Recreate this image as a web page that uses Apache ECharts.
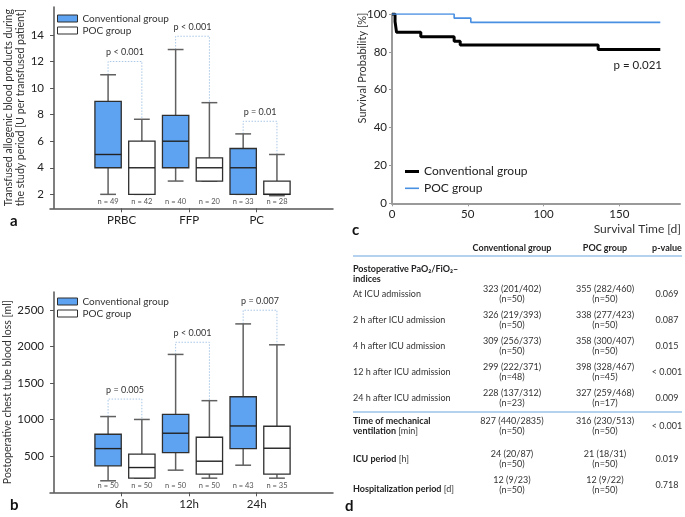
<!DOCTYPE html>
<html>
<head>
<meta charset="utf-8">
<script src="https://cdn.jsdelivr.net/npm/echarts@6/dist/echarts.min.js"></script>
<style>
  html, body { margin: 0; padding: 0; background: #ffffff; }
  #chart { width: 685px; height: 517px; }
</style>
</head>
<body>
<div id="chart"></div>
<script>
// ---- panel a: transfused blood products, [min, Q1, median, Q3, max]
const bloodCategories = ['PRBC', 'FFP', 'PC'];
const bloodConventional = [[2, 4, 5, 9, 11], [3, 4, 6, 7.95, 12.9], [2, 2, 4, 5.45, 6.55]];
const bloodPoc = [[2, 2, 4, 6, 7.65], [3, 3, 4, 4.75, 8.9], [1.9, 2, 2, 3, 5]];
const bloodNConventional = [49, 40, 33];
const bloodNPoc = [42, 20, 28];
const bloodPLabels = ['p < 0.001', 'p < 0.001', 'p = 0.01'];
const bloodBracketLevels = [12, 13.9, 7.5];
const bloodYTicks = [2, 4, 6, 8, 10, 12, 14];

// ---- panel b: chest tube blood loss [ml]
const lossCategories = ['6h', '12h', '24h'];
const lossConventional = [[158, 363, 600, 797, 1040], [304, 545, 811, 1071, 1893], [372, 600, 911, 1312, 2312]];
const lossPoc = [[194, 194, 340, 523, 1000], [194, 249, 427, 756, 1258], [194, 249, 605, 907, 2025]];
const lossNConventional = [50, 50, 43];
const lossNPoc = [50, 50, 35];
const lossPLabels = ['p = 0.005', 'p < 0.001', 'p = 0.007'];
const lossBracketLevels = [1280, 2060, 2500];
const lossYTicks = [500, 1000, 1500, 2000, 2500];

// ---- panel c: Kaplan-Meier, [day, survival %]
const survivalConventional = [[0, 100], [2, 96], [3, 90.3], [19, 88], [41, 85.6], [45, 83.6], [136, 81.2], [177, 81.2]];
const survivalPoc = [[0, 100], [41, 97.8], [52, 95.6], [177, 95.6]];
const survivalXTicks = [0, 50, 100, 150];
const survivalP = 'p = 0.021';

// ---- panel d: table
const tableHeader = ['Conventional group', 'POC group', 'p-value'];
const pfTitle = 'Postoperative PaO₂/FiO₂–\nindices';
const pfRows = ['At ICU admission', '2 h after ICU admission', '4 h after ICU admission', '12 h after ICU admission', '24 h after ICU admission'];
const pfConventional = ['323 (201/402)', '326 (219/393)', '309 (256/373)', '299 (222/371)', '228 (137/312)'];
const pfConventionalN = ['(n=50)', '(n=50)', '(n=50)', '(n=48)', '(n=23)'];
const pfPoc = ['355 (282/460)', '338 (277/423)', '358 (300/407)', '398 (328/467)', '327 (259/468)'];
const pfPocN = ['(n=50)', '(n=50)', '(n=50)', '(n=45)', '(n=17)'];
const pfP = ['0.069', '0.087', '0.015', '< 0.001', '0.009'];
const outcomeRows = ['{b|Time of mechanical}\n{b|ventilation} [min]', '{b|ICU period} [h]', '{b|Hospitalization period} [d]'];
const outcomeConventional = ['827 (440/2835)', '24 (20/87)', '12 (9/23)'];
const outcomeConventionalN = ['(n=50)', '(n=50)', '(n=50)'];
const outcomePoc = ['316 (230/513)', '21 (18/31)', '12 (9/22)'];
const outcomePocN = ['(n=50)', '(n=50)', '(n=50)'];
const outcomeP = ['< 0.001', '0.019', '0.718'];

const FONT = 'Lato';
const CONV_FILL = '#5ea3f2';
const BRACKET = '#a9c7e6';
const CONV_OFFSET = -0.2;
const POC_OFFSET = 0.3;
const BOX_WIDTH = 0.39;

function boxSeries(name, axis, stats, nList, offset, fill, yMin) {
  return {
    type: 'custom',
    name: name,
    xAxisIndex: axis,
    yAxisIndex: axis,
    silent: true,
    data: stats.map((s, i) => [i + 1, s[0], s[1], s[2], s[3], s[4], nList[i]]),
    encode: { x: 0, y: [1, 2, 3, 4, 5] },
    renderItem: function (params, api) {
      const x = api.value(0) + offset;
      const cx = api.coord([x, 0])[0];
      const yLow = api.coord([x, api.value(1)])[1];
      const yQ1 = api.coord([x, api.value(2)])[1];
      const yMed = api.coord([x, api.value(3)])[1];
      const yQ3 = api.coord([x, api.value(4)])[1];
      const yHigh = api.coord([x, api.value(5)])[1];
      const yBase = api.coord([x, yMin])[1];
      const half = api.size([BOX_WIDTH, 0])[0] / 2;
      const cap = half * 0.6;
      const whisker = { stroke: '#606060', lineWidth: 1.5 };
      return {
        type: 'group',
        children: [
          { type: 'line', shape: { x1: cx, y1: yHigh, x2: cx, y2: yQ3 }, style: whisker },
          { type: 'line', shape: { x1: cx, y1: yQ1, x2: cx, y2: yLow }, style: whisker },
          { type: 'line', shape: { x1: cx - cap, y1: yHigh, x2: cx + cap, y2: yHigh }, style: whisker },
          { type: 'line', shape: { x1: cx - cap, y1: yLow, x2: cx + cap, y2: yLow }, style: whisker },
          { type: 'rect', shape: { x: cx - half, y: yQ3, width: half * 2, height: yQ1 - yQ3 },
            style: { fill: fill, stroke: '#2f2f2f', lineWidth: 1.3 } },
          { type: 'line', shape: { x1: cx - half, y1: yMed, x2: cx + half, y2: yMed },
            style: { stroke: '#222', lineWidth: 1.4 } },
          { type: 'text', x: cx, y: yBase - 7,
            style: { text: 'n = ' + api.value(6), fontFamily: FONT, fontSize: 7.5, fill: '#555',
                     textAlign: 'center', textVerticalAlign: 'middle' } }
        ]
      };
    }
  };
}

function bracketSeries(axis, conv, poc, levels, labels) {
  return {
    type: 'custom',
    xAxisIndex: axis,
    yAxisIndex: axis,
    silent: true,
    data: levels.map((lv, i) => [i + 1, lv, conv[i][4], poc[i][4]]),
    encode: { x: 0, y: 1 },
    renderItem: function (params, api) {
      const pos = api.value(0);
      const top = api.coord([pos + CONV_OFFSET, api.value(1)]);
      const xl = top[0];
      const yTop = top[1];
      const yl = api.coord([pos + CONV_OFFSET, api.value(2)])[1];
      const right = api.coord([pos + POC_OFFSET, api.value(3)]);
      const xr = right[0];
      return {
        type: 'group',
        children: [
          { type: 'polyline', shape: { points: [[xl, yl], [xl, yTop], [xr, yTop], [xr, right[1]]] },
            style: { stroke: BRACKET, lineWidth: 1, lineDash: [1.5, 1.5], fill: null } },
          { type: 'text', x: (xl + xr) / 2, y: yTop - 9,
            style: { text: labels[params.dataIndex], fontFamily: FONT, fontSize: 9, fill: '#333',
                     textAlign: 'center', textVerticalAlign: 'middle' } }
        ]
      };
    }
  };
}

function boxXAxis(grid, names) {
  return {
    type: 'value', gridIndex: grid, min: -0.06, max: 4.13,
    axisLine: { show: true, lineStyle: { color: '#555', width: 1.5 } },
    axisTick: { show: true, customValues: [1, 2, 3], length: 4, lineStyle: { color: '#555' } },
    axisLabel: { customValues: [1, 2, 3], formatter: v => names[v - 1] || '',
                 fontFamily: FONT, fontSize: 11.5, color: '#222', margin: 6 },
    splitLine: { show: false }
  };
}

function boxYAxis(grid, min, max, ticks, name, gap) {
  return {
    type: 'value', gridIndex: grid, min: min, max: max,
    axisLine: { show: true, lineStyle: { color: '#555', width: 1.5 } },
    axisTick: { show: true, customValues: ticks, length: 4, lineStyle: { color: '#555' } },
    axisLabel: { customValues: ticks, formatter: v => String(v),
                 fontFamily: FONT, fontSize: 11.5, color: '#222', margin: 6 },
    splitLine: { show: false },
    name: name, nameLocation: 'middle', nameRotate: 90, nameGap: gap,
    nameTextStyle: { fontFamily: FONT, fontSize: 10.5, color: '#333', lineHeight: 12 }
  };
}

const boxLegendData = [
  { name: 'Conventional group', icon: 'rect', itemStyle: { color: CONV_FILL, borderColor: '#2f2f2f', borderWidth: 1 } },
  { name: 'POC group', icon: 'rect', itemStyle: { color: '#ffffff', borderColor: '#2f2f2f', borderWidth: 1 } }
];
const legendText = { fontFamily: FONT, fontSize: 10, color: '#333', lineHeight: 12 };

// ---- graphic texts: letters, axis titles, table
const graphics = [];
function txt(x, y, text, extra) {
  graphics.push({
    type: 'text', x: x, y: y, silent: true,
    style: Object.assign({ text: text, fontFamily: FONT, fontSize: 9, fill: '#333',
                           textAlign: 'left', textVerticalAlign: 'middle' }, extra || {})
  });
}
function hline(x1, x2, y) {
  graphics.push({ type: 'line', silent: true, shape: { x1: x1, y1: y, x2: x2, y2: y },
                  style: { stroke: '#6aa6de', lineWidth: 1.2 } });
}

const letterStyle = { fontSize: 15, fontWeight: 'bold', fill: '#111' };
txt(10, 221, 'a', letterStyle);
txt(10, 505, 'b', letterStyle);
txt(352, 230, 'c', letterStyle);
txt(345, 506, 'd', letterStyle);

graphics.push({
  type: 'text', x: 362, y: 68, rotation: Math.PI / 2, silent: true,
  style: { text: 'Survival Probability [%]', fontFamily: FONT, fontSize: 11, fill: '#333',
           textAlign: 'center', textVerticalAlign: 'middle' }
});
txt(681, 229, 'Survival Time [d]', { fontSize: 12, textAlign: 'right' });
txt(662, 65, survivalP, { fontSize: 11.5, textAlign: 'right', fill: '#222' });

const colX = [512, 605, 667];
const labelX = 353;
const bold = { fontWeight: 'bold', fill: '#222' };
tableHeader.forEach((h, i) => txt(colX[i], 248, h, Object.assign({ textAlign: 'center' }, bold)));
hline(353, 682, 256);
txt(labelX, 274, pfTitle, Object.assign({ lineHeight: 9.5 }, bold));
pfRows.forEach((r, i) => {
  const y = 294 + 26 * i;
  txt(labelX, y, r);
  txt(colX[0], y, pfConventional[i] + '\n' + pfConventionalN[i], { textAlign: 'center', lineHeight: 10 });
  txt(colX[1], y, pfPoc[i] + '\n' + pfPocN[i], { textAlign: 'center', lineHeight: 10 });
  txt(colX[2], y, pfP[i], { textAlign: 'center' });
});
hline(353, 682, 412);
const outcomeY = [426, 459, 485];
const outcomeLabelShift = [0, 0, 4];
const rich = { b: { fontFamily: FONT, fontSize: 9, fontWeight: 'bold', fill: '#222', lineHeight: 9.5 } };
outcomeRows.forEach((r, i) => {
  const y = outcomeY[i];
  txt(labelX, y + outcomeLabelShift[i], r, { lineHeight: 9.5, rich: rich });
  txt(colX[0], y, outcomeConventional[i] + '\n' + outcomeConventionalN[i], { textAlign: 'center', lineHeight: 10 });
  txt(colX[1], y, outcomePoc[i] + '\n' + outcomePocN[i], { textAlign: 'center', lineHeight: 10 });
  txt(colX[2], y, outcomeP[i], { textAlign: 'center' });
});

const A_YMIN = 0.95;
const B_YMIN = 0;

const option = {
  animation: false,
  backgroundColor: '#ffffff',
  grid: [
    { left: 50, top: 7, width: 283, height: 201.3, outerBoundsMode: 'none' },
    { left: 50, top: 292, width: 283, height: 200.3, outerBoundsMode: 'none' },
    { left: 392, top: 14, width: 288, height: 189.3, outerBoundsMode: 'none' }
  ],
  xAxis: [
    boxXAxis(0, bloodCategories),
    boxXAxis(1, lossCategories),
    {
      type: 'value', gridIndex: 2, min: 0, max: 190,
      axisLine: { show: true, lineStyle: { color: '#9a9a9a', width: 2 } },
      axisTick: { show: true, customValues: survivalXTicks, length: 3, lineStyle: { color: '#9a9a9a' } },
      axisLabel: { customValues: survivalXTicks, fontFamily: FONT, fontSize: 11.5, color: '#222', margin: 5 },
      splitLine: { show: false }
    }
  ],
  yAxis: [
    boxYAxis(0, A_YMIN, 16.1, bloodYTicks,
      'Transfused allogenic blood products during\nthe study period [U per transfused patient]', 22),
    boxYAxis(1, B_YMIN, 2750, lossYTicks, 'Postoperative chest tube blood loss [ml]', 33),
    {
      type: 'value', gridIndex: 2, min: 0, max: 100, interval: 20,
      axisLine: { show: true, lineStyle: { color: '#9a9a9a', width: 2 } },
      axisTick: { show: true, length: 3, lineStyle: { color: '#9a9a9a' } },
      axisLabel: { fontFamily: FONT, fontSize: 11.5, color: '#222', margin: 5 },
      splitLine: { show: false }
    }
  ],
  legend: [
    { left: 57, top: 12.5, orient: 'vertical', padding: 0, itemGap: 0, itemWidth: 20, itemHeight: 7,
      selectedMode: false, data: boxLegendData, textStyle: legendText },
    { left: 57, top: 295.5, orient: 'vertical', padding: 0, itemGap: 0, itemWidth: 20, itemHeight: 7,
      selectedMode: false, data: boxLegendData, textStyle: legendText },
    { left: 405, top: 164.5, padding: 0, itemWidth: 14, itemHeight: 3, selectedMode: false,
      data: [{ name: 'Conventional group', icon: 'rect', itemStyle: { color: '#000000', borderWidth: 0 } }],
      textStyle: { fontFamily: FONT, fontSize: 12, color: '#222', lineHeight: 14 } },
    { left: 405, top: 181.3, padding: 0, itemWidth: 14, itemHeight: 1.6, selectedMode: false,
      data: [{ name: 'POC group', icon: 'rect', itemStyle: { color: '#4a90e2', borderWidth: 0 } }],
      textStyle: { fontFamily: FONT, fontSize: 12, color: '#222', lineHeight: 14 } }
  ],
  series: [
    bracketSeries(0, bloodConventional, bloodPoc, bloodBracketLevels, bloodPLabels),
    boxSeries('Conventional group', 0, bloodConventional, bloodNConventional, CONV_OFFSET, CONV_FILL, A_YMIN),
    boxSeries('POC group', 0, bloodPoc, bloodNPoc, POC_OFFSET, '#ffffff', A_YMIN),
    bracketSeries(1, lossConventional, lossPoc, lossBracketLevels, lossPLabels),
    boxSeries('Conventional group', 1, lossConventional, lossNConventional, CONV_OFFSET, CONV_FILL, B_YMIN),
    boxSeries('POC group', 1, lossPoc, lossNPoc, POC_OFFSET, '#ffffff', B_YMIN),
    {
      type: 'line', name: 'Conventional group', xAxisIndex: 2, yAxisIndex: 2, step: 'end',
      showSymbol: false, silent: true, data: survivalConventional,
      lineStyle: { color: '#000000', width: 3 }, itemStyle: { color: '#000000' }
    },
    {
      type: 'line', name: 'POC group', xAxisIndex: 2, yAxisIndex: 2, step: 'end',
      showSymbol: false, silent: true, data: survivalPoc,
      lineStyle: { color: '#4a90e2', width: 1.6 }, itemStyle: { color: '#4a90e2' }
    }
  ],
  graphic: graphics
};

const chart = echarts.init(document.getElementById('chart'), null, { width: 685, height: 517 });
chart.setOption(option);
</script>
</body>
</html>
